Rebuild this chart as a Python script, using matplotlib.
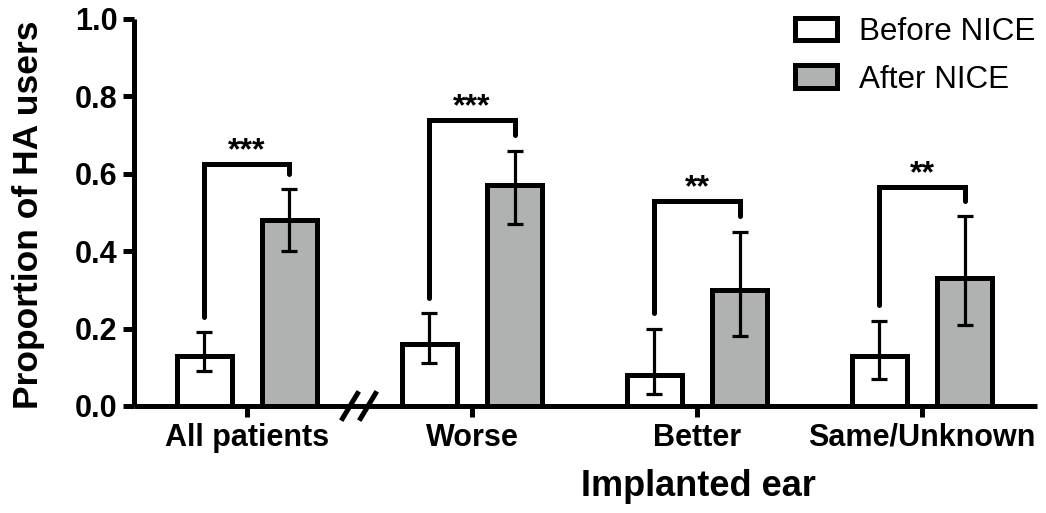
"""
Proporcao de usuarios de AASI antes e depois do NICE, por orelha implantada.
"""

import matplotlib
matplotlib.use('Agg')
import matplotlib.pyplot as plt
from matplotlib.patches import Patch

# dados
categorias = ['All patients', 'Worse', 'Better', 'Same/Unknown']
antes = [0.13, 0.16, 0.08, 0.13]
antes_inf = [0.09, 0.11, 0.03, 0.07]
antes_sup = [0.19, 0.24, 0.20, 0.22]
depois = [0.48, 0.57, 0.30, 0.33]
depois_inf = [0.40, 0.47, 0.18, 0.21]
depois_sup = [0.56, 0.66, 0.45, 0.49]
estrelas = ['***', '***', '**', '**']
altura_chave = [0.625, 0.74, 0.53, 0.565]
yticks = [0.0, 0.2, 0.4, 0.6, 0.8, 1.0]

CINZA = '#b0b2b2'
LW = 3.6

plt.rcParams['font.family'] = ['Liberation Sans', 'DejaVu Sans']

fig = plt.figure(figsize=(10.46, 5.13), dpi=100)
ax = fig.add_axes([0.1281, 0.2086, 0.8633, 0.7544])

x = list(range(len(categorias)))
desl = 0.189
larg = 0.245
xa = [i - desl for i in x]
xd = [i + desl for i in x]

ax.bar(xa, antes, width=larg, color='white', edgecolor='black', linewidth=LW, zorder=2)
ax.bar(xd, depois, width=larg, color=CINZA, edgecolor='black', linewidth=LW, zorder=2)

err_a = [[a - lo for a, lo in zip(antes, antes_inf)], [hi - a for a, hi in zip(antes, antes_sup)]]
err_d = [[d - lo for d, lo in zip(depois, depois_inf)], [hi - d for d, hi in zip(depois, depois_sup)]]
ax.errorbar(xa, antes, yerr=err_a, fmt='none', ecolor='black', elinewidth=2.3,
            capsize=6, capthick=2.3, zorder=3)
ax.errorbar(xd, depois, yerr=err_d, fmt='none', ecolor='black', elinewidth=2.3,
            capsize=6, capthick=2.3, zorder=3)

# chaves de significancia
for i in x:
    topo = altura_chave[i]
    ax.plot([xa[i], xa[i], xd[i], xd[i]],
            [antes_sup[i] + 0.04, topo, topo, depois_sup[i] + 0.04],
            color='black', lw=LW, solid_capstyle='round', solid_joinstyle='miter', zorder=4)
    ax.text((xa[i] + xd[i]) / 2, topo + 0.012, estrelas[i], ha='center', va='baseline',
            fontsize=23, fontweight='bold')

ax.set_xlim(-0.502, 3.511)
ax.set_ylim(0, 1)
ax.set_xticks(x)
ax.set_xticklabels(categorias, fontsize=22, fontweight='bold')
ax.set_yticks(yticks)
ax.set_yticklabels(['%.1f' % v for v in yticks], fontsize=22, fontweight='bold')
ax.tick_params(axis='both', length=8, width=LW, direction='out', pad=4)

for lado in ['top', 'right']:
    ax.spines[lado].set_visible(False)
for lado in ['left', 'bottom']:
    ax.spines[lado].set_linewidth(LW)
    ax.spines[lado].set_capstyle('butt')

# quebra do eixo x
xq = (0.498 + 0.502) / 4.013
dx = 7.5 / 903
dy = 12.5 / 387
for c in [xq - 9 / 903, xq + 9 / 903]:
    ax.plot([c - dx, c + dx], [-dy, dy], transform=ax.transAxes, color='black',
            lw=LW, clip_on=False, zorder=5)

ax.set_ylabel('Proportion of HA users', fontsize=25.5, fontweight='bold')
ax.yaxis.set_label_coords(-0.098, 0.495)
ax.set_xlabel('Implanted ear', fontsize=26, fontweight='bold')
ax.xaxis.set_label_coords(0.625, -0.162)

handles = [Patch(facecolor='white', edgecolor='black', linewidth=LW, label='Before NICE'),
           Patch(facecolor=CINZA, edgecolor='black', linewidth=LW, label='After NICE')]
ax.legend(handles=handles, loc='upper right', bbox_to_anchor=(1035 / 1046, 1 - 17 / 513),
          bbox_transform=fig.transFigure, frameon=False, fontsize=22.6,
          handlelength=1.34, handleheight=0.72, handletextpad=0.7,
          labelspacing=0.56, borderpad=0, borderaxespad=0)

plt.savefig('out.png', dpi=100)
